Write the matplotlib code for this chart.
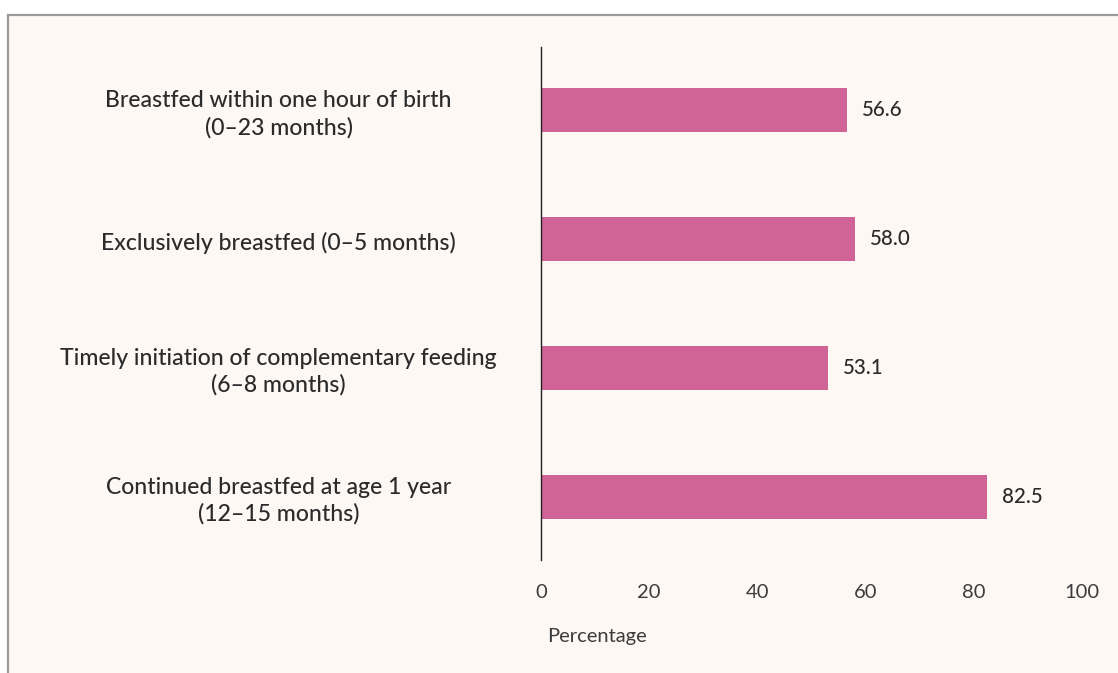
import matplotlib
matplotlib.use("Agg")
import matplotlib.pyplot as plt
from matplotlib.patches import Rectangle

categories = [
    "Breastfed within one hour of birth\n(0\u201323 months)",
    "Exclusively breastfed (0\u20135 months)",
    "Timely initiation of complementary feeding\n(6\u20138 months)",
    "Continued breastfed at age 1 year\n(12\u201315 months)",
]
values = [56.6, 58.0, 53.1, 82.5]
xticks = [0, 20, 40, 60, 80, 100]

bg = "#fef8f5"
bar_color = "#d06496"
text_color = "#2b2b2b"

plt.rcParams["font.family"] = ["Lato", "DejaVu Sans"]

fig = plt.figure(figsize=(11.18, 6.73), dpi=100)
fig.patch.set_facecolor("white")
# panel background with grey border on top and left
panel = Rectangle((7.5 / 1118, -0.1), 1.2, 1 - 14.5 / 673 + 0.1,
                  transform=fig.transFigure, facecolor=bg,
                  edgecolor="#9a9a9a", linewidth=1.6, zorder=-10)
fig.add_artist(panel)

ax = fig.add_axes([541 / 1118, 1 - 560 / 673, 541 / 1118, 513 / 673])
ax.set_facecolor("none")
ax.set_zorder(5)

ypos = list(range(len(values)))
ax.barh(ypos, values, height=0.34, color=bar_color)
for y, v in zip(ypos, values):
    ax.text(v + 2.8, y, f"{v:.1f}", va="center", ha="left",
            fontsize=14.8, color=text_color, fontweight="medium")

ax.set_xlim(0, 100)
ax.set_ylim(len(values) - 0.51, -0.49)
ax.set_xticks(xticks)
ax.set_xticklabels([str(t) for t in xticks], fontsize=14.5, color="#3c3c3c")
ax.tick_params(axis="x", length=0, pad=17)
ax.set_yticks([])

for y, lab in zip(ypos, categories):
    ax.text(-0.485, y + 0.03, lab, transform=ax.get_yaxis_transform(),
            ha="center", va="center", multialignment="center",
            fontsize=16.6, color=text_color, linespacing=1.32,
            fontweight="medium")

for s in ["top", "right", "bottom"]:
    ax.spines[s].set_visible(False)
ax.spines["left"].set_color("#222222")
ax.spines["left"].set_linewidth(1.0)

ax.text(0.012, -0.15, "Percentage", transform=ax.transAxes, ha="left",
        va="center", fontsize=14.5, color="#3c3c3c")

fig.savefig("out.png", dpi=100, facecolor=fig.get_facecolor())
